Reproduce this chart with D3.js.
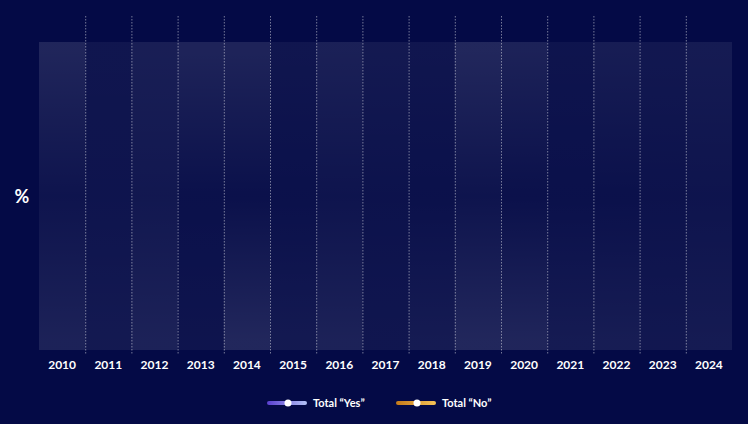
<!DOCTYPE html>
<html>
<head>
<meta charset="utf-8">
<script src="https://cdn.jsdelivr.net/npm/d3@7"></script>
<style>
	html, body { margin: 0; padding: 0; background: #040a46; }
	svg { display: block; font-family: Lato, "Open Sans", sans-serif; }
</style>
</head>
<body>
<svg id="chart"></svg>
<script>
	// years on the x axis
	var years = ["2010", "2011", "2012", "2013", "2014", "2015", "2016", "2017",
		"2018", "2019", "2020", "2021", "2022", "2023", "2024"];

	// glow of each year column (0..1), read at top / middle / bottom of the plot
	var glowTop = [0.65, 0.2, 0.45, 0.6, 0.6, 0.2, 0.5, 0.3, 0.2, 0.7, 0.55, 0.15, 0.4, 0.25, 0.35];
	var glowMid = [0.15, 0.15, 0.25, 0.05, 0.05, 0.05, 0.15, 0.1, 0.05, 0.15, 0.05, 0.05, 0.05, 0.1, 0.15];
	var glowBottom = [0.55, 0.3, 0.55, 0.15, 0.7, 0.3, 0.55, 0.2, 0.35, 0.7, 0.65, 0.35, 0.4, 0.25, 0.35];

	// legend
	var seriesNames = ["Total \u201cYes\u201d", "Total \u201cNo\u201d"];
	var seriesColors = [["#5a3fd0", "#b3c2f7"], ["#c57a1a", "#f7c457"]];

	var W = 748, H = 424;
	var margin = { top: 42, right: 16, bottom: 74, left: 39 };
	var width = W - margin.left - margin.right;
	var height = H - margin.top - margin.bottom;

	var svg = d3.select("#chart")
		.attr("width", W)
		.attr("height", H);

	svg.append("rect")
		.attr("width", W)
		.attr("height", H)
		.attr("fill", "#040a46");

	var x = d3.scaleBand()
		.domain(years)
		.range([0, width])
		.padding(0);

	var glow = d3.scaleLinear()
		.domain([0, 1])
		.range([0.02, 0.16]);

	var defs = svg.append("defs");

	var g = svg.append("g")
		.attr("transform", "translate(" + margin.left + "," + margin.top + ")");

	//column gradients
	years.forEach(function(y, i) {
		var grad = defs.append("linearGradient")
			.attr("id", "col" + i)
			.attr("x1", 0).attr("y1", 0)
			.attr("x2", 0).attr("y2", 1);
		[[0.03, glowTop[i]], [0.5, glowMid[i]], [0.97, glowBottom[i]]].forEach(function(s) {
			grad.append("stop")
				.attr("offset", s[0])
				.attr("stop-color", "#ffffff")
				.attr("stop-opacity", glow(s[1]));
		});
	});

	g.selectAll("rect.col")
		.data(years)
		.enter().append("rect")
		.attr("class", "col")
		.attr("x", function(d) { return x(d); })
		.attr("y", 0)
		.attr("width", x.bandwidth())
		.attr("height", height)
		.attr("fill", function(d, i) { return "url(#col" + i + ")"; });

	//dashed separators between years
	g.selectAll("line.sep")
		.data(years.slice(1))
		.enter().append("line")
		.attr("class", "sep")
		.attr("x1", function(d) { return x(d) + 0.5; })
		.attr("x2", function(d) { return x(d) + 0.5; })
		.attr("y1", -26)
		.attr("y2", height + 4)
		.attr("stroke", "#ffffff")
		.attr("stroke-opacity", 0.45)
		.attr("stroke-width", 1)
		.attr("stroke-dasharray", "1.5,1.5");

	//axis
	var xAxis = g.append("g")
		.attr("transform", "translate(0," + height + ")")
		.call(d3.axisBottom(x).tickSize(0).tickPadding(10));

	xAxis.select(".domain").remove();
	xAxis.selectAll("text")
		.attr("fill", "#ffffff")
		.style("font-size", "12px")
		.style("font-weight", "700")
		.style("font-family", "Lato, sans-serif");

	svg.append("text")
		.attr("x", 22)
		.attr("y", 197)
		.attr("dy", "0.35em")
		.attr("text-anchor", "middle")
		.attr("fill", "#ffffff")
		.style("font-size", "18px")
		.style("font-weight", "700")
		.text("%");

	//legend
	var legendX = d3.scalePoint()
		.domain(seriesNames)
		.range([267, 396]);

	var legend = svg.selectAll("g.legend")
		.data(seriesNames)
		.enter().append("g")
		.attr("class", "legend")
		.attr("transform", function(d) { return "translate(" + legendX(d) + ",403)"; });

	seriesNames.forEach(function(d, i) {
		var lg = defs.append("linearGradient")
			.attr("id", "leg" + i)
			.attr("x1", 0).attr("x2", 1)
			.attr("y1", 0).attr("y2", 0);
		lg.append("stop").attr("offset", 0).attr("stop-color", seriesColors[i][0]);
		lg.append("stop").attr("offset", 1).attr("stop-color", seriesColors[i][1]);
	});

	legend.append("rect")
		.attr("x", 0)
		.attr("y", -2)
		.attr("width", 40)
		.attr("height", 4)
		.attr("rx", 2)
		.attr("fill", function(d, i) { return "url(#leg" + i + ")"; });

	legend.append("circle")
		.attr("cx", 21)
		.attr("cy", 0)
		.attr("r", 3.5)
		.attr("fill", "#ffffff");

	legend.append("text")
		.attr("x", 46)
		.attr("y", 0)
		.attr("dy", "0.35em")
		.attr("fill", "#ffffff")
		.style("font-size", "11px")
		.style("font-weight", "700")
		.text(function(d) { return d; });
</script>
</body>
</html>
